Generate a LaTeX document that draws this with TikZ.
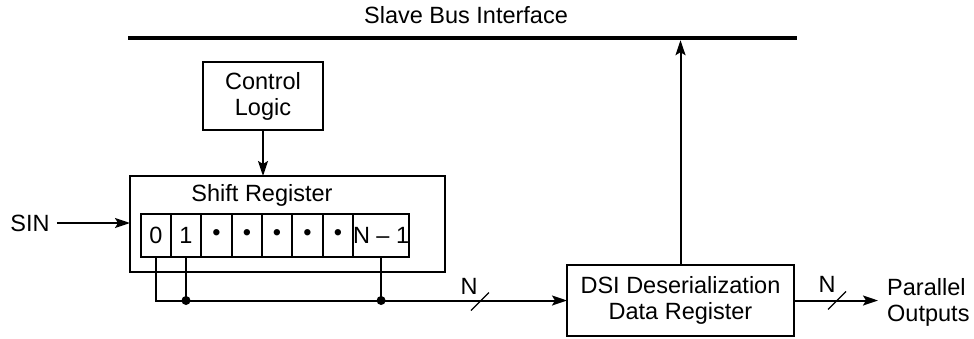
\documentclass[tikz,border=0pt]{standalone}
\usepackage{fontspec}
\setmainfont{Liberation Sans}
\usetikzlibrary{arrows.meta,calc}
\begin{document}
\begin{tikzpicture}[x=1pt,y=-1pt,
  every node/.style={font=\fontsize{23.5}{26}\selectfont, inner sep=0pt},
  box/.style={draw, line width=2.2pt, rectangle, outer sep=0pt},
  cell/.style={draw, line width=2.2pt, rectangle, minimum height=43pt, anchor=west, outer sep=0pt},
  wire/.style={line width=2pt},
  arr/.style={line width=2pt, -{Stealth[length=15pt,width=10pt,inset=3pt]}},
  busline/.style={line width=4.5pt},
  dotj/.style={fill=black},
]
\useasboundingbox (0,0) rectangle (974,338);

% Slave bus
\node (title) at (466,15) {Slave Bus Interface};
\coordinate (busL) at (128,38);
\coordinate (busR) at (797,38);
\draw[busline] (busL) -- (busR);

% Control logic
\node[box, minimum width=120pt, minimum height=68pt, align=center] (ctrl) at (263,96) {Control\\Logic};

% Shift register
\node[box, minimum width=315pt, minimum height=96pt] (shift) at (287.5,224) {};
\node (srtitle) at (262,195) {Shift Register};

\node[cell, minimum width=30pt] (c0) at (141,235.5) {0};
\node[cell, minimum width=30pt] (c1) at (c0.east) {1};
\node[cell, minimum width=31pt] (c2) at (c1.east) {\textbullet};
\node[cell, minimum width=30pt] (c3) at (c2.east) {\textbullet};
\node[cell, minimum width=30pt] (c4) at (c3.east) {\textbullet};
\node[cell, minimum width=31pt] (c5) at (c4.east) {\textbullet};
\node[cell, minimum width=30pt] (c6) at (c5.east) {\textbullet};
\node[cell, minimum width=56pt] (c7) at (c6.east) {N – 1};

% SIN
\node (sin) at (30,223) {SIN};
\draw[arr] ([xshift=7pt]sin.east) -- (sin.east -| shift.west);

% control -> shift
\draw[arr] (ctrl.south) -- (ctrl.south |- shift.north);

% DSI register
\node[box, minimum width=227pt, minimum height=71pt, align=center] (dsi) at (680.5,300.5) {DSI Deserialization\\Data Register};

% DSI -> bus
\draw[arr, shorten >=2.2pt] (dsi.north) -- (dsi.north |- busL);

% parallel bus from shift register cells
\draw[arr] (c0.south) |- (dsi.west);
\draw[wire] (c1.south) -- (c1.south |- dsi.west);
\draw[wire] (c7.south) -- (c7.south |- dsi.west);
\fill[dotj] (c1.south |- dsi.west) circle (4.5pt);
\fill[dotj] (c7.south |- dsi.west) circle (4.5pt);

\coordinate (s1) at (480,300.5);
\draw[wire, line width=1.3pt] ([shift={(-9,10)}]s1) -- ([shift={(9,-8)}]s1);
\node (n1) at (469,286) {N};

% output
\coordinate (outEnd) at (878,300.5);
\draw[arr] (dsi.east) -- (outEnd);
\coordinate (s2) at (837,300.5);
\draw[wire, line width=1.3pt] ([shift={(-9,9)}]s2) -- ([shift={(9,-9)}]s2);
\node (n2) at (827,284) {N};
\node[anchor=west, align=left] (par) at (887,302) {Parallel\\Outputs};
\end{tikzpicture}
\end{document}
